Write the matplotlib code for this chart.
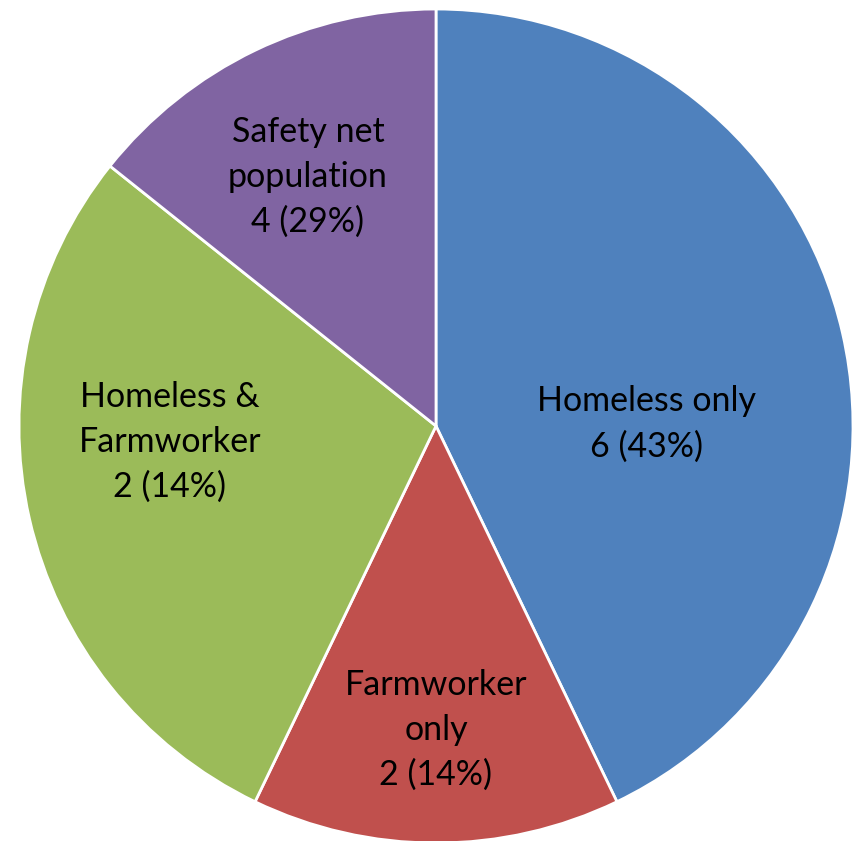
import matplotlib.pyplot as plt

# slice sizes as drawn (labels as printed in the source chart)
groups = ['Homeless only', 'Farmworker only', 'Homeless & Farmworker', 'Safety net population']
sizes = [6, 2, 4, 2]
label_text = ['Homeless only\n6 (43%)', 'Farmworker\nonly\n2 (14%)',
              'Homeless &\nFarmworker\n2 (14%)', 'Safety net\npopulation\n4 (29%)']
colors = ['#4F81BD', '#C0504D', '#9BBB59', '#8064A2']
label_pos = [(0.504, 0.005), (0.0, -0.729), (-0.638, -0.038), (-0.307, 0.597)]

plt.rcParams['font.family'] = ['Lato', 'DejaVu Sans']

fig = plt.figure(figsize=(8.58, 8.41), dpi=100)
ax = fig.add_axes([19 / 858, -0.0024, 834 / 858, 834 / 841])
ax.pie(sizes, colors=colors, startangle=90, counterclock=False, radius=1,
       wedgeprops=dict(edgecolor='white', linewidth=2))
for txt, (x, y) in zip(label_text, label_pos):
    ax.text(x, y, txt, ha='center', va='center', fontsize=24.5, linespacing=1.5)
ax.set_xlim(-1, 1)
ax.set_ylim(-1, 1)
ax.set_aspect('auto')
ax.axis('off')

fig.savefig('out.png', dpi=100)
